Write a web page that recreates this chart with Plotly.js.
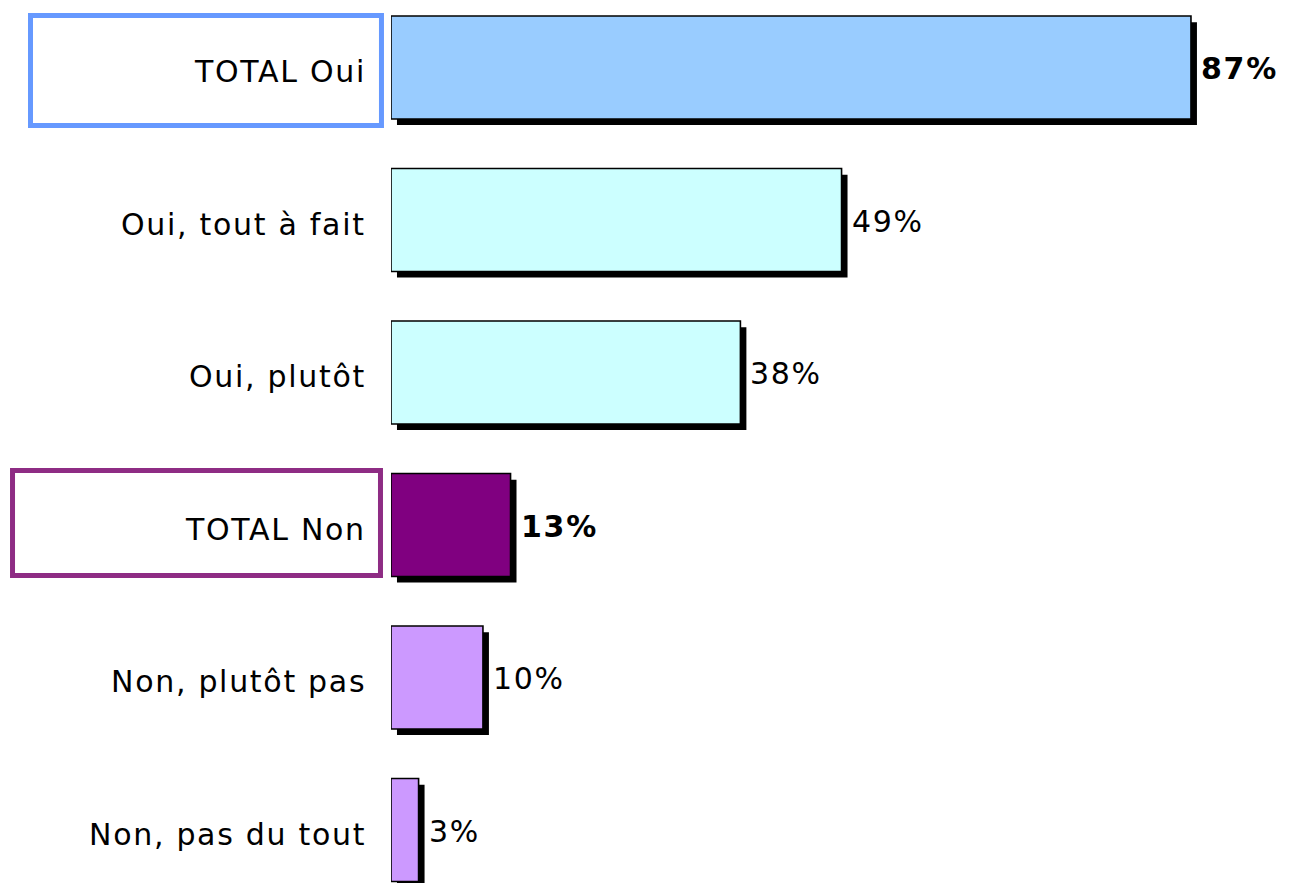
<!DOCTYPE html>
<html>
<head>
<meta charset="utf-8">
<script src="https://cdn.plot.ly/plotly-3.0.1.min.js"></script>
<style>
  body { margin: 0; background: #fff; }
  #chart { width: 1290px; height: 883px; }
  .annotation-text { letter-spacing: 1.7px; }
</style>
</head>
<body>
<div id="chart"></div>
<script>
// answers, top to bottom
var categories = ['TOTAL Oui', 'Oui, tout à fait', 'Oui, plutôt', 'TOTAL Non', 'Non, plutôt pas', 'Non, pas du tout'];
var values = [87, 49, 38, 13, 10, 3];
var barColors = ['#99CCFF', '#CCFFFF', '#CCFFFF', '#800080', '#CC99FF', '#CC99FF'];
var isTotal = [true, false, false, true, false, false];

var font = 'DejaVu Sans, Verdana, sans-serif';
var barWidth = 0.675;

// drop shadow, a few pixels right and down
var shadow = {
  type: 'bar',
  orientation: 'h',
  y: categories,
  x: values,
  base: 0.65,
  width: barWidth,
  offset: -barWidth / 2 + 0.04,
  marker: { color: '#000000', line: { width: 0 } },
  hoverinfo: 'skip',
  showlegend: false
};

var bars = {
  type: 'bar',
  orientation: 'h',
  y: categories,
  x: values,
  width: barWidth,
  marker: { color: barColors, line: { color: '#000000', width: 1.6 } },
  hoverinfo: 'none',
  showlegend: false
};

var notes = [];
for (var i = 0; i < values.length; i++) {
  var t = values[i] + '%';
  // value at the end of the bar
  notes.push({
    x: values[i] + 0.65,
    y: categories[i],
    xref: 'x', yref: 'y',
    text: isTotal[i] ? '<b>' + t + '</b>' : t,
    showarrow: false,
    xanchor: 'left',
    xshift: 2,
    yshift: -1,
    font: { family: font, size: 30, color: '#000000' }
  });
  // category label on the left
  notes.push({
    x: -0.0256,
    y: categories[i],
    xref: 'paper', yref: 'y',
    text: categories[i],
    showarrow: false,
    xanchor: 'right',
    yshift: -4,
    font: { family: font, size: 30, color: '#000000' }
  });
}

// frames round the two totals
var shapes = [
  { type: 'rect', xref: 'paper', yref: 'y', x0: -0.401, x1: -0.0106, y0: -0.341, y1: 0.380,
    line: { color: '#6699FF', width: 5 }, fillcolor: 'rgba(0,0,0,0)', layer: 'below' },
  { type: 'rect', xref: 'paper', yref: 'y', x0: -0.421, x1: -0.0117, y0: 2.643, y1: 3.331,
    line: { color: '#8E2C84', width: 5 }, fillcolor: 'rgba(0,0,0,0)', layer: 'below' }
];

var layout = {
  width: 1290,
  height: 883,
  margin: { l: 391, r: 0, t: 0, b: 0 },
  paper_bgcolor: '#ffffff',
  plot_bgcolor: '#ffffff',
  barmode: 'overlay',
  showlegend: false,
  font: { family: font, size: 30, color: '#000000' },
  xaxis: {
    range: [0, 97.77],
    visible: false,
    fixedrange: true
  },
  yaxis: {
    type: 'category',
    range: [5.3475, -0.4426],
    showgrid: false,
    zeroline: false,
    showline: false,
    showticklabels: false,
    ticks: '',
    automargin: false,
    fixedrange: true
  },
  annotations: notes,
  shapes: shapes
};

Plotly.newPlot('chart', [shadow, bars], layout, { displayModeBar: false, staticPlot: true });
</script>
</body>
</html>
